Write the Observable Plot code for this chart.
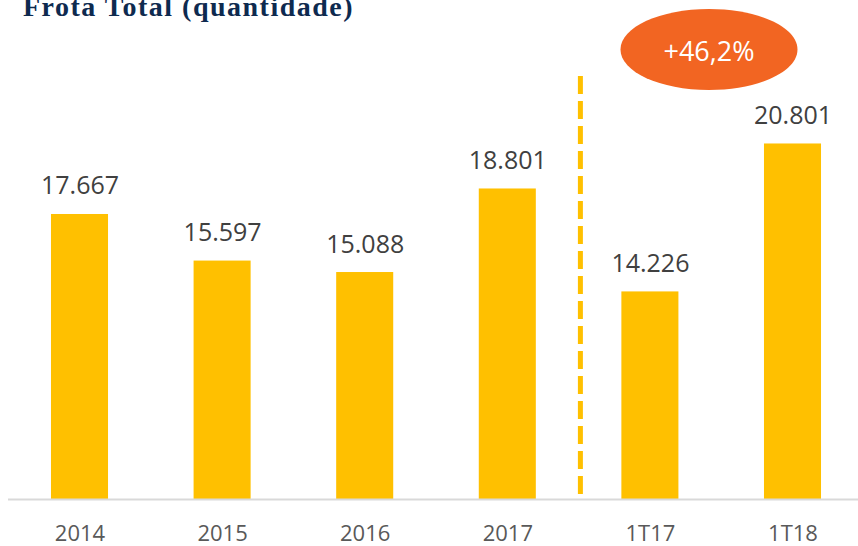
<!DOCTYPE html>
<html><head><meta charset="utf-8">
<script src="https://cdn.jsdelivr.net/npm/d3@7"></script>
<script src="https://cdn.jsdelivr.net/npm/@observablehq/plot@0.6"></script>
<style>
body{margin:0;background:#fff;width:858px;height:546px;overflow:hidden;position:relative}
#title{position:absolute;left:23px;top:-7px;font-family:"Liberation Serif",serif;font-weight:bold;font-size:28px;letter-spacing:1.5px;color:#0e2a4f;line-height:1;white-space:nowrap;z-index:2}
#chart{position:absolute;left:0;top:0}
</style></head><body>
<div id="title">Frota Total (quantidade)</div>
<div id="chart"></div>
<script>
const categories = ["2014","2015","2016","2017","1T17","1T18"];
const values = [17667,15597,15088,18801,14226,20801];
const valueLabels = ["17.667","15.597","15.088","18.801","14.226","20.801"];
const axisMin = 5000, axisMax = 25000;
const separatorAt = "1T17";
const separatorTop = 23800;
const badgeAt = "1T18";
const badgeText = "+46,2%";

const data = categories.map((c,i)=>({cat:c, value:values[i], label:valueLabels[i]}));

const ellipse = {draw(ctx){
  const rx=88.5, ry=40.5, k=0.5523;
  ctx.moveTo(rx,0);
  ctx.bezierCurveTo(rx, ry*k, rx*k, ry, 0, ry);
  ctx.bezierCurveTo(-rx*k, ry, -rx, ry*k, -rx, 0);
  ctx.bezierCurveTo(-rx, -ry*k, -rx*k, -ry, 0, -ry);
  ctx.bezierCurveTo(rx*k, -ry, rx, -ry*k, rx, 0);
  ctx.closePath();
}};

const chart = Plot.plot({
  width:858, height:546,
  marginLeft:8, marginRight:0, marginTop:49, marginBottom:47,
  x:{domain:categories, paddingInner:0.6, paddingOuter:0.2804, align:0.5375, round:false},
  y:{domain:[axisMin,axisMax], axis:null},
  style:{fontFamily:"'Open Sans', sans-serif", background:"white", overflow:"visible", color:"#595959"},
  marks:[
    Plot.barY(data, {x:"cat", y1:()=>axisMin, y2:"value", fill:"#FFC000"}),
    Plot.ruleY([axisMin], {stroke:"#d9d9d9", strokeWidth:2}),
    Plot.ruleX([separatorAt], {x:d=>d, y1:()=>separatorTop, y2:()=>axisMin, dx:-70, stroke:"#FFC000", strokeWidth:5, strokeDasharray:"18,7"}),
    Plot.text(data, {x:"cat", y:"value", text:"label", lineAnchor:"bottom", dy:-20, fontSize:25, fill:"#404040"}),
    Plot.dot([badgeAt], {x:d=>d, y:()=>axisMax, dx:-84, symbol:ellipse, fill:"#F26522", stroke:null}),
    Plot.text([badgeText], {x:()=>badgeAt, y:()=>axisMax, dx:-84, dy:3, text:d=>d, lineAnchor:"middle", fontSize:27, fill:"white"}),
    Plot.axisX({tickSize:0, tickPadding:26, fontSize:22, fill:"#595959", label:null})
  ]
});
document.getElementById("chart").appendChild(chart);
</script>
</body></html>
